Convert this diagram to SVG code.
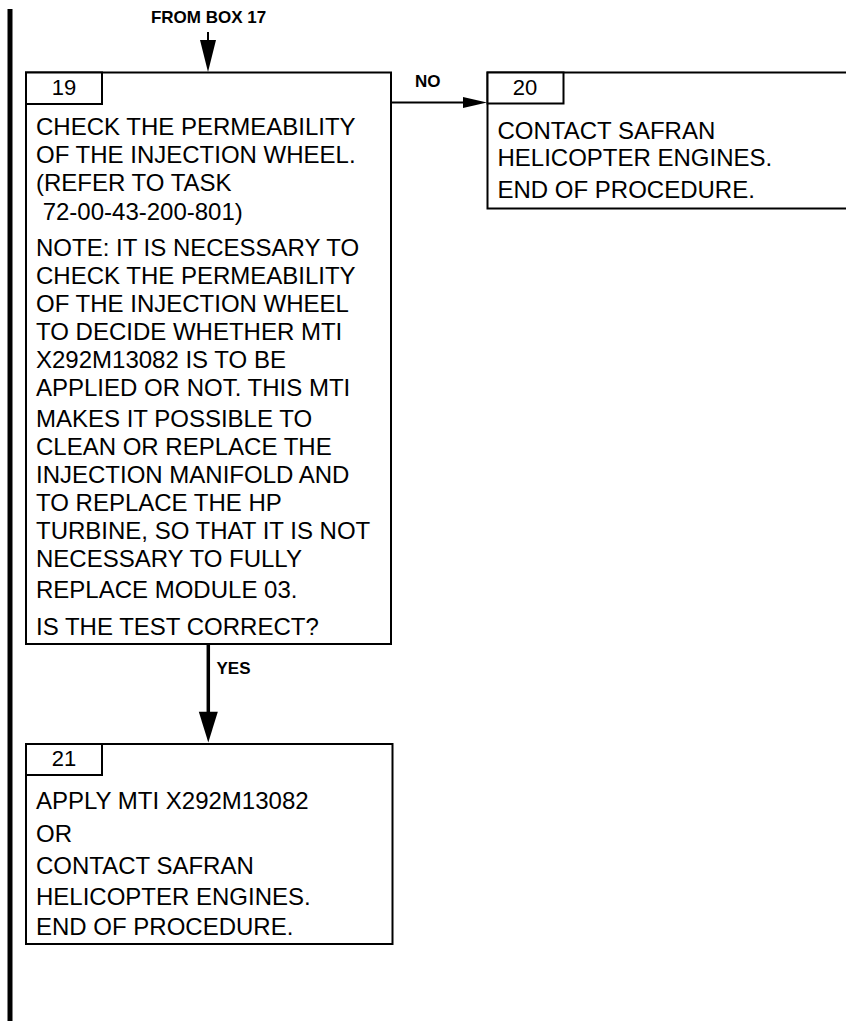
<svg xmlns="http://www.w3.org/2000/svg" width="846" height="1023" viewBox="0 0 846 1023">
<style>
.box{fill:#fff;stroke:#000;stroke-width:2}
.t{font-family:"Liberation Sans",Arial,sans-serif;font-size:24px;fill:#000}
.n{font-family:"Liberation Sans",Arial,sans-serif;font-size:22px;fill:#000;text-anchor:middle}
.lbl{font-family:"Liberation Sans",Arial,sans-serif;font-size:17px;font-weight:bold;fill:#000}
.ln{stroke:#000;stroke-width:2;fill:none}
.lnb{stroke:#000;stroke-width:3.5;fill:none}
</style>
<rect x="7.5" y="9" width="5" height="1012" fill="#000"/>
<g id="connectors">
<text class="lbl" x="208.5" y="23" text-anchor="middle">FROM BOX 17</text>
<line class="ln" x1="208" y1="32" x2="208" y2="42"/>
<polygon points="200,40 216,40 208,72"/>
<line class="ln" x1="391" y1="102.5" x2="465" y2="102.5"/>
<polygon points="463,97 463,108 487,102.5"/>
<text class="lbl" x="415" y="87">NO</text>
<line class="lnb" x1="208.3" y1="644" x2="208.3" y2="714"/>
<polygon points="198.8,711.7 217.8,711.7 208.3,742.5"/>
<text class="lbl" x="216.5" y="673.5">YES</text>
</g>
<g id="box19">
<rect class="box" x="26" y="72.5" width="365" height="571.5"/>
<rect class="box" x="26" y="72.5" width="76" height="31.5"/>
<text class="n" x="64" y="94.5">19</text>
<text class="t" x="36" y="135">CHECK THE PERMEABILITY</text>
<text class="t" x="36" y="163">OF THE INJECTION WHEEL.</text>
<text class="t" x="36" y="191">(REFER TO TASK</text>
<text class="t" x="36" y="219.5" xml:space="preserve"> 72-00-43-200-801)</text>
<text class="t" x="36" y="256">NOTE: IT IS NECESSARY TO</text>
<text class="t" x="36" y="284">CHECK THE PERMEABILITY</text>
<text class="t" x="36" y="312">OF THE INJECTION WHEEL</text>
<text class="t" x="36" y="340">TO DECIDE WHETHER MTI</text>
<text class="t" x="36" y="368">X292M13082 IS TO BE</text>
<text class="t" x="36" y="396">APPLIED OR NOT. THIS MTI</text>
<text class="t" x="36" y="426.5">MAKES IT POSSIBLE TO</text>
<text class="t" x="36" y="455">CLEAN OR REPLACE THE</text>
<text class="t" x="36" y="483">INJECTION MANIFOLD AND</text>
<text class="t" x="36" y="511">TO REPLACE THE HP</text>
<text class="t" x="36" y="538.5">TURBINE, SO THAT IT IS NOT</text>
<text class="t" x="36" y="566.5">NECESSARY TO FULLY</text>
<text class="t" x="36" y="597.5">REPLACE MODULE 03.</text>
<text class="t" x="36" y="635">IS THE TEST CORRECT?</text>
</g>
<g id="box20">
<rect class="box" x="487.5" y="72.5" width="370" height="136"/>
<rect class="box" x="487.5" y="72.5" width="76" height="31"/>
<text class="n" x="525" y="95">20</text>
<text class="t" x="497.5" y="138.5">CONTACT SAFRAN</text>
<text class="t" x="497.5" y="166">HELICOPTER ENGINES.</text>
<text class="t" x="497.5" y="197.5">END OF PROCEDURE.</text>
</g>
<g id="box21">
<rect class="box" x="26" y="744" width="366.5" height="200"/>
<rect class="box" x="26" y="744" width="76" height="31"/>
<text class="n" x="64" y="766">21</text>
<text class="t" x="36" y="808.5">APPLY MTI X292M13082</text>
<text class="t" x="36" y="841.5">OR</text>
<text class="t" x="36" y="873.5">CONTACT SAFRAN</text>
<text class="t" x="36" y="905">HELICOPTER ENGINES.</text>
<text class="t" x="36" y="935">END OF PROCEDURE.</text>
</g>
</svg>
